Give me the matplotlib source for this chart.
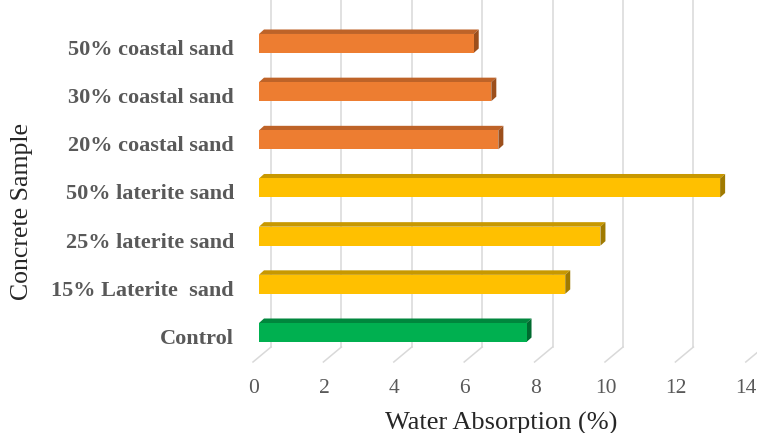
import matplotlib
matplotlib.use("Agg")
import matplotlib.pyplot as plt
from matplotlib.patches import Polygon
from matplotlib.transforms import ScaledTranslation

# Water absorption of concrete samples (bottom to top)
samples = ["Control", "15% Laterite  sand", "25% laterite sand", "50% laterite sand",
           "20% coastal sand", "30% coastal sand", "50% coastal sand"]
absorption = [7.6, 8.7, 9.7, 13.1, 6.8, 6.6, 6.1]
groups = ["control", "laterite", "laterite", "laterite", "coastal", "coastal", "coastal"]
x_ticks = [0, 2, 4, 6, 8, 10, 12, 14]

# front / top / side shades for each group
palette = {
    "control": ("#00B050", "#00873D", "#006B2F"),
    "laterite": ("#FFC000", "#C89800", "#A07A00"),
    "coastal": ("#ED7D31", "#BE6328", "#9C4F1C"),
}

plt.rcParams["font.family"] = ["Liberation Serif", "DejaVu Serif"]

W, H = 757, 433
fig = plt.figure(figsize=(W / 100, H / 100), dpi=100)

# plot area in pixels
left_px, right_px, top_px, bottom_px = 259, 757, 0, 365
ax = fig.add_axes([left_px / W, (H - bottom_px) / H,
                   (right_px - left_px) / W, (bottom_px - top_px) / H])

px_x = 35.2          # pixels per x unit
px_y = 48.17         # pixels per category
y0_px = 332.5        # pixel row of the first category centre
ax.set_xlim(0, (right_px - left_px) / px_x)
ax.set_ylim((y0_px - bottom_px) / px_y, (y0_px - top_px) / px_y)
ax.patch.set_alpha(0)
for s in ax.spines.values():
    s.set_visible(False)

# pseudo-3D geometry (in data units)
back_dx = 12 / px_x
front_dx = -6 / px_x
floor_back_y = (y0_px - 347) / px_y
floor_front_y = (y0_px - 362) / px_y
top_y = (y0_px - top_px) / px_y
depth_dx = 5 / px_x
depth_dy = 4.5 / px_y
bar_h = 19 / px_y

grid_c = "#D9D9D9"
for v in x_ticks:
    ax.plot([v + back_dx, v + back_dx], [floor_back_y, top_y], color=grid_c,
            lw=1.1, zorder=1, clip_on=True)
    ax.plot([v + back_dx, v + front_dx], [floor_back_y, floor_front_y], color=grid_c,
            lw=1.1, zorder=1, clip_on=False)

for i, (val, g) in enumerate(zip(absorption, groups)):
    front, top, side = palette[g]
    ax.barh(i, val, height=bar_h, left=0, color=front, zorder=3)
    yt = i + bar_h / 2
    yb = i - bar_h / 2
    ax.add_patch(Polygon([(0, yt), (val, yt), (val + depth_dx, yt + depth_dy),
                          (depth_dx, yt + depth_dy)], closed=True,
                         facecolor=top, edgecolor="none", zorder=2))
    ax.add_patch(Polygon([(val, yb), (val, yt), (val + depth_dx, yt + depth_dy),
                          (val + depth_dx, yb + depth_dy)], closed=True,
                         facecolor=side, edgecolor="none", zorder=2))

ax.set_xticks(x_ticks)
ax.set_xticklabels([str(t) for t in x_ticks], fontsize=15.5, color="#595959")
ax.tick_params(axis="x", length=0, pad=10)
for lab in ax.get_xticklabels():
    lab.set_transform(lab.get_transform() + ScaledTranslation(-5.5 / 100, 0, fig.dpi_scale_trans))

ax.set_yticks(range(len(samples)))
ax.set_yticklabels(samples, fontsize=16, fontweight="bold", color="#595959")
ax.tick_params(axis="y", length=0, pad=18)
for lab in ax.get_yticklabels():
    lab.set_transform(lab.get_transform() + ScaledTranslation(0, -4 / 100, fig.dpi_scale_trans))

ax.set_xlabel("Water Absorption (%)", fontsize=19, color="#262626", va="center")
ax.xaxis.set_label_coords((501 - left_px) / (right_px - left_px), -(423 - bottom_px) / bottom_px)
ax.set_ylabel("Concrete Sample", fontsize=18.5, color="#262626", va="center")
ax.yaxis.set_label_coords((22 - left_px) / (right_px - left_px), (bottom_px - 212) / bottom_px)

fig.savefig("out.png", dpi=100)
